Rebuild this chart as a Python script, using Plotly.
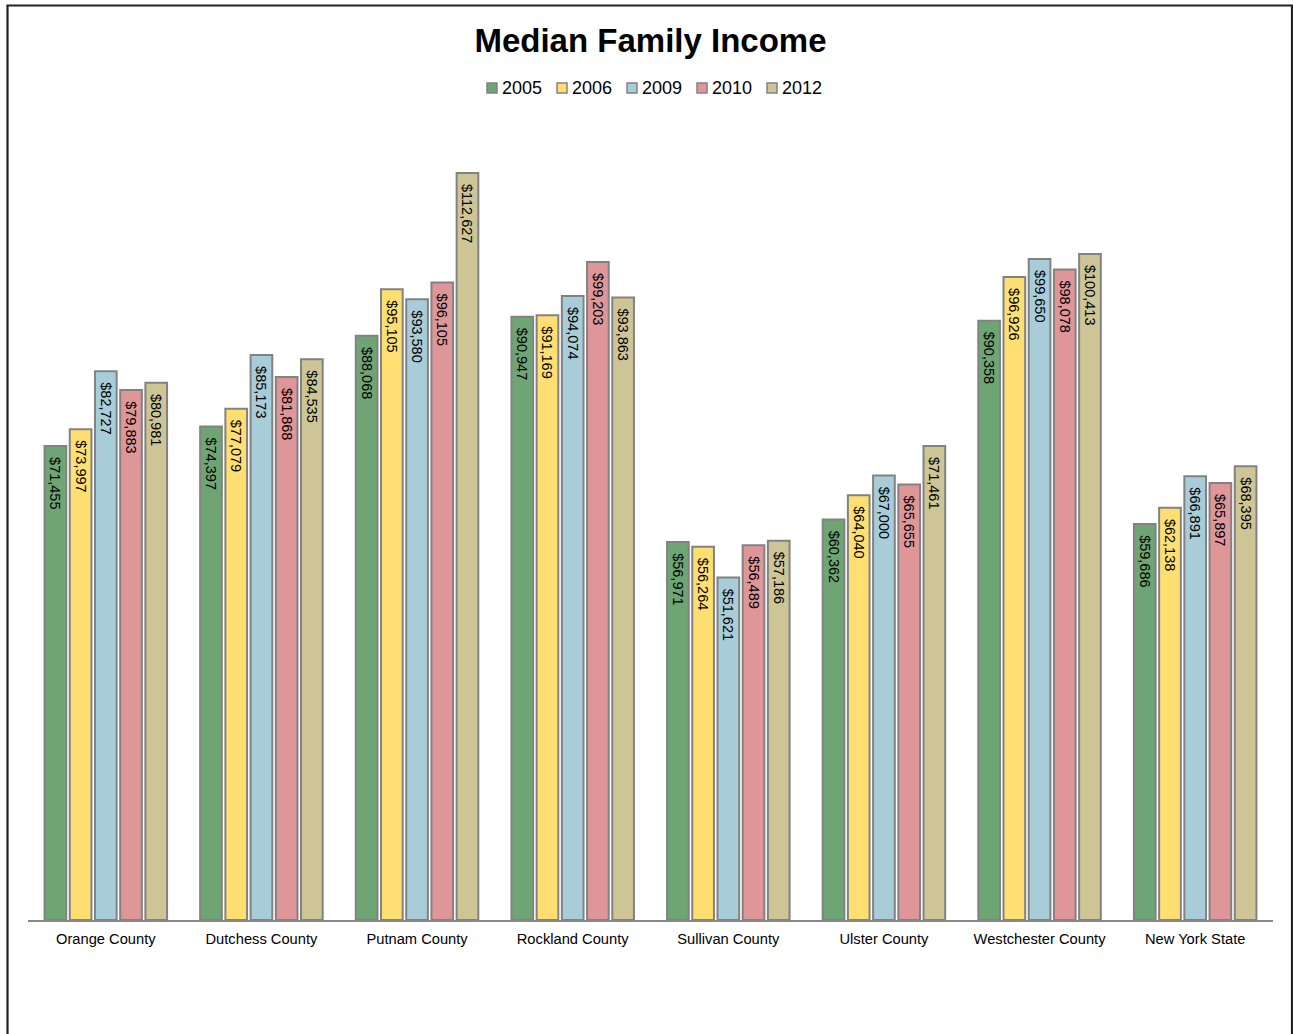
import plotly.graph_objects as go

# Median family income by region and survey year
regions = ["Orange County", "Dutchess County", "Putnam County", "Rockland County",
           "Sullivan County", "Ulster County", "Westchester County", "New York State"]
years = ["2005", "2006", "2009", "2010", "2012"]

income_2005 = [71455, 74397, 88068, 90947, 56971, 60362, 90358, 59686]
income_2006 = [73997, 77079, 95105, 91169, 56264, 64040, 96926, 62138]
income_2009 = [82727, 85173, 93580, 94074, 51621, 67000, 99650, 66891]
income_2010 = [79883, 81868, 96105, 99203, 56489, 65655, 98078, 65897]
income_2012 = [80981, 84535, 112627, 93863, 57186, 71461, 100413, 68395]

series = [income_2005, income_2006, income_2009, income_2010, income_2012]
colors = ["#6fa474", "#ffdf72", "#a9cdd8", "#df9699", "#cdc595"]

FONT = "Liberation Sans, Arial, sans-serif"
PAD = "\u00a0\u00a0"  # keeps the value labels a little below the bar tops
EDGE = "#828282"

fig = go.Figure()
for year, vals, col in zip(years, series, colors):
    fig.add_trace(go.Bar(
        name=year,
        x=regions,
        y=vals,
        marker=dict(color=col, line=dict(color=EDGE, width=2)),
        text=[f"{PAD}${v:,}" for v in vals],
        textposition="inside",
        insidetextanchor="end",
        textangle=90,
        textfont=dict(family=FONT, size=14.5, color="#000000"),
        constraintext="none",
        cliponaxis=False,
        showlegend=False,
    ))

# Pixel <-> paper helpers for the frame and the compact legend
L, R, T, B = 28, 20, 124, 114
W, H = 1293, 1034
pw, ph = W - L - R, H - T - B
def px(x):
    return (x - L) / pw
def py(y):
    return (H - B - y) / ph

# Outer frame
fig.add_shape(type="rect", xref="paper", yref="paper",
              x0=px(7.5), x1=px(1292), y0=py(1040), y1=py(5.5),
              line=dict(color="#222222", width=2.2), fillcolor="rgba(0,0,0,0)", layer="above")

# Compact horizontal legend: swatch followed closely by the year
LEG_X0, LEG_STEP, LEG_Y, SW = 487, 70, 88, 10
for i, (year, col) in enumerate(zip(years, colors)):
    x0 = LEG_X0 + i * LEG_STEP
    fig.add_shape(type="rect", xref="paper", yref="paper",
                  x0=px(x0), x1=px(x0 + SW), y0=py(LEG_Y + SW / 2), y1=py(LEG_Y - SW / 2),
                  line=dict(color=EDGE, width=1.5), fillcolor=col)
    fig.add_annotation(xref="paper", yref="paper", x=px(x0 + SW + 3), y=py(LEG_Y),
                       xanchor="left", yanchor="middle", text=year, showarrow=False,
                       font=dict(family=FONT, size=18, color="#000000"))

fig.update_layout(
    width=W, height=H,
    margin=dict(l=L, r=R, t=T, b=B, pad=0),
    paper_bgcolor="white",
    plot_bgcolor="white",
    barmode="group",
    bargap=0.19,
    bargroupgap=0.14,
    title=dict(text="<b>Median Family Income</b>", xref="paper", x=0.5, xanchor="center",
               y=1 - 40 / H, yanchor="middle",
               font=dict(family=FONT, size=33, color="#000000")),
    showlegend=False,
    font=dict(family=FONT),
)

fig.update_xaxes(
    showline=True, linecolor="#888888", linewidth=2,
    ticks="", showgrid=False, ticklabelstandoff=4,
    tickfont=dict(family=FONT, size=14.7, color="#000000"),
)
fig.update_yaxes(
    range=[0, 120000], showticklabels=False, showgrid=False, zeroline=False,
    showline=False, ticks="",
)

fig.write_html("out.html")
